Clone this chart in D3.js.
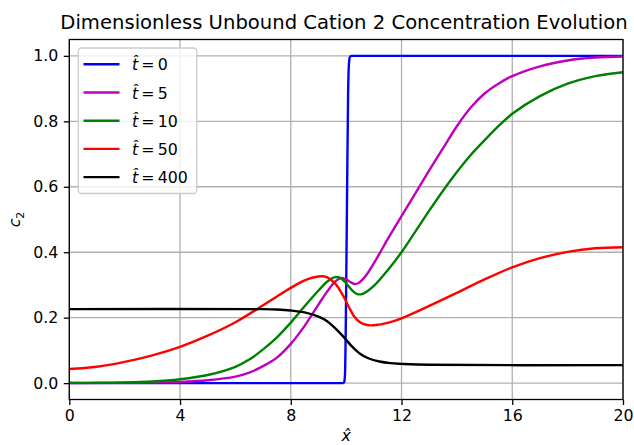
<!DOCTYPE html>
<html>
<head>
<meta charset="utf-8">
<script src="https://cdn.jsdelivr.net/npm/d3@7"></script>
<style>
  body { margin: 0; background: #fff; }
  svg { font-family: "DejaVu Sans", sans-serif; }
</style>
</head>
<body>
<div id="chart"></div>
<script>
// Values
const xTicks = [0, 4, 8, 12, 16, 20];
const yTicks = [0.0, 0.2, 0.4, 0.6, 0.8, 1.0];

const seriesLabels = ["0", "5", "10", "50", "400"];
const seriesColors = ["#0000ff", "#bf00bf", "#008000", "#ff0000", "#000000"];

const t0 = [[0, 0], [9.88, 0], [9.93, 0.004], [9.96, 0.03], [9.99, 0.2], [10.03, 0.55],
  [10.07, 0.88], [10.1, 0.975], [10.14, 0.997], [10.2, 1.0], [20, 1.0]];

const t5 = [[0, 0], [3, 0.002], [4, 0.004], [5, 0.009], [6, 0.02], [6.5, 0.032], [7, 0.052],
  [7.5, 0.078], [8, 0.12], [8.5, 0.175], [9, 0.24], [9.3, 0.278], [9.6, 0.31], [9.8, 0.321],
  [10.0, 0.317], [10.15, 0.309], [10.3, 0.303], [10.45, 0.306], [10.6, 0.317], [10.8, 0.339],
  [11.0, 0.366], [11.22, 0.398], [11.5, 0.44], [12, 0.51], [12.5, 0.58], [13, 0.65],
  [13.5, 0.718], [14, 0.785], [14.5, 0.842], [15, 0.885], [15.5, 0.915], [16, 0.938],
  [17, 0.968], [18, 0.986], [19, 0.995], [20, 0.998]];

const t10 = [[0, 0.001], [1, 0.001], [2, 0.002], [3, 0.005], [4, 0.012], [5, 0.025], [6, 0.05],
  [6.5, 0.072], [7, 0.103], [7.5, 0.14], [8, 0.185], [8.5, 0.235], [9, 0.283], [9.3, 0.309],
  [9.6, 0.324], [9.8, 0.321], [10.0, 0.305], [10.2, 0.285], [10.4, 0.272], [10.6, 0.273],
  [10.8, 0.283], [11.0, 0.297], [11.5, 0.345], [12, 0.4], [12.5, 0.463], [13, 0.527],
  [13.5, 0.588], [14, 0.645], [14.5, 0.697], [15, 0.742], [15.5, 0.785], [16, 0.823],
  [17, 0.877], [18, 0.915], [19, 0.938], [20, 0.95]];

const t50 = [[0, 0.043], [1, 0.05], [2, 0.065], [3, 0.085], [4, 0.111], [5, 0.145], [6, 0.186],
  [7, 0.238], [7.5, 0.265], [8, 0.291], [8.5, 0.314], [9.0, 0.326], [9.3, 0.324], [9.6, 0.305],
  [9.9, 0.266], [10.1, 0.232], [10.3, 0.203], [10.5, 0.186], [10.8, 0.177], [11.0, 0.177],
  [11.5, 0.184], [12, 0.198], [13, 0.236], [14, 0.276], [15, 0.317], [16, 0.354], [17, 0.382],
  [18, 0.401], [19, 0.412], [20, 0.415]];

const t400 = [[0, 0.226], [7, 0.226], [7.5, 0.225], [8, 0.222], [8.5, 0.216], [9, 0.203],
  [9.3, 0.19], [9.6, 0.168], [9.9, 0.142], [10.2, 0.113], [10.5, 0.09], [10.8, 0.076],
  [11.2, 0.066], [11.6, 0.061], [12, 0.059], [13, 0.056], [20, 0.055]];

const seriesData = [t0, t5, t10, t50, t400];

const width = 634, height = 445;
const margin = { top: 39.5, right: 11, bottom: 45.5, left: 69.3 };

const svg = d3.select("#chart").append("svg")
  .attr("width", width)
  .attr("height", height);

const x = d3.scaleLinear().domain([0, 20]).range([margin.left, width - margin.right]);
const y = d3.scaleLinear().domain([-0.05, 1.05]).range([height - margin.bottom, margin.top]);

const gridColor = "#b0b0b0";

// grid
svg.append("g")
  .selectAll("line")
  .data(xTicks)
  .join("line")
  .attr("x1", d => x(d)).attr("x2", d => x(d))
  .attr("y1", y.range()[0]).attr("y2", y.range()[1])
  .attr("stroke", gridColor).attr("stroke-width", 1.3);

svg.append("g")
  .selectAll("line")
  .data(yTicks)
  .join("line")
  .attr("x1", x.range()[0]).attr("x2", x.range()[1])
  .attr("y1", d => y(d)).attr("y2", d => y(d))
  .attr("stroke", gridColor).attr("stroke-width", 1.3);

// clip so the lines stay inside the axes
svg.append("clipPath").attr("id", "clip")
  .append("rect")
  .attr("x", x.range()[0]).attr("y", y.range()[1])
  .attr("width", x.range()[1] - x.range()[0])
  .attr("height", y.range()[0] - y.range()[1]);

const smoothLine = d3.line()
  .x(d => x(d[0]))
  .y(d => y(d[1]))
  .curve(d3.curveCatmullRom.alpha(0.5));

const stepLine = d3.line()
  .x(d => x(d[0]))
  .y(d => y(d[1]))
  .curve(d3.curveMonotoneX);

svg.append("g")
  .attr("clip-path", "url(#clip)")
  .selectAll("path")
  .data(seriesData)
  .join("path")
  .attr("d", (d, i) => i === 0 ? stepLine(d) : smoothLine(d))
  .attr("fill", "none")
  .attr("stroke", (d, i) => seriesColors[i])
  .attr("stroke-width", 2.4)
  .attr("stroke-linejoin", "round")
  .attr("stroke-linecap", "square");

// axes
const xAxis = svg.append("g")
  .attr("transform", `translate(0,${y.range()[0]})`)
  .call(d3.axisBottom(x).tickValues(xTicks).tickFormat(d3.format("d"))
    .tickSizeOuter(0).tickSize(5.5).tickPadding(5));

const yAxis = svg.append("g")
  .attr("transform", `translate(${x.range()[0]},0)`)
  .call(d3.axisLeft(y).tickValues(yTicks).tickFormat(d3.format(".1f"))
    .tickSizeOuter(0).tickSize(5.5).tickPadding(5.5));

[xAxis, yAxis].forEach(a => {
  a.select(".domain").remove();
  a.selectAll("line").attr("stroke", "#000").attr("stroke-width", 1.3);
  a.selectAll("text")
    .attr("font-family", "DejaVu Sans")
    .attr("font-size", 15.8)
    .attr("fill", "#000");
});

// frame
svg.append("rect")
  .attr("x", x.range()[0]).attr("y", y.range()[1])
  .attr("width", x.range()[1] - x.range()[0])
  .attr("height", y.range()[0] - y.range()[1])
  .attr("fill", "none")
  .attr("stroke", "#000")
  .attr("stroke-width", 1.3);

// title
svg.append("text")
  .attr("x", 344)
  .attr("y", 29)
  .attr("text-anchor", "middle")
  .attr("font-size", 19.6)
  .text("Dimensionless Unbound Cation 2 Concentration Evolution");

// x label: x-hat
svg.append("text")
  .attr("x", (x.range()[0] + x.range()[1]) / 2)
  .attr("y", 441)
  .attr("text-anchor", "middle")
  .attr("font-size", 15.8)
  .attr("font-style", "italic")
  .text("x\u0302");

// y label: c_2
const yl = svg.append("text")
  .attr("transform", `translate(20,${(y.range()[0] + y.range()[1]) / 2}) rotate(-90)`)
  .attr("text-anchor", "middle")
  .attr("font-size", 15.8);
yl.append("tspan").attr("font-style", "italic").text("c");
yl.append("tspan").attr("font-size", 11).attr("dy", 3.5).text("2");

// legend
const legend = svg.append("g");
legend.append("rect")
  .attr("x", 78.3).attr("y", 48)
  .attr("width", 118.5).attr("height", 145.5)
  .attr("rx", 3.5)
  .attr("fill", "#fff").attr("fill-opacity", 0.8)
  .attr("stroke", "#cccccc").attr("stroke-width", 1.3);

const item = legend.selectAll("g.item")
  .data(seriesLabels)
  .join("g")
  .attr("transform", (d, i) => `translate(0,${64.3 + i * 28.2})`);

item.append("line")
  .attr("x1", 83.5).attr("x2", 119.5)
  .attr("y1", 0).attr("y2", 0)
  .attr("stroke", (d, i) => seriesColors[i])
  .attr("stroke-width", 2.4);

const lt = item.append("text")
  .attr("x", 132)
  .attr("y", 6)
  .attr("font-size", 15.8);
lt.append("tspan").attr("font-style", "italic").text("t\u0302");
lt.append("tspan").text(d => "\u2009=\u2009" + d);
</script>
</body>
</html>
